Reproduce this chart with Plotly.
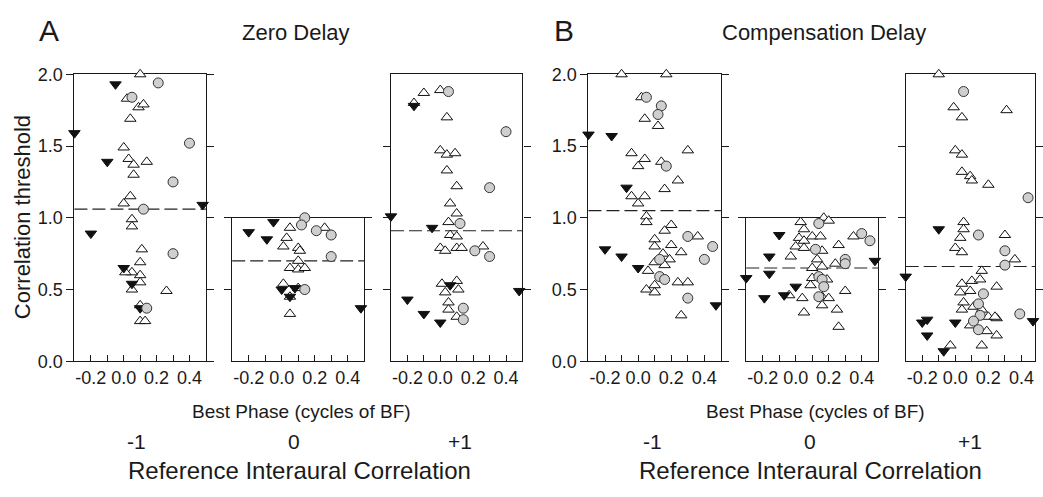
import plotly.graph_objects as go

W, H = 1043, 497

# ---------------- data (best phase, correlation threshold) ----------------
# Panel A1: Zero Delay, reference -1
a1_open_x = [0.10, 0.02, 0.09, 0.12, 0.04, 0.00, 0.03, 0.06, 0.14, 0.06, 0.04, 0.00, 0.05, 0.05,
             0.11, 0.10, 0.10, 0.10, 0.05, 0.01, 0.05, 0.26, 0.10, 0.10, 0.13]
a1_open_y = [2.00, 1.83, 1.77, 1.79, 1.69, 1.49, 1.41, 1.37, 1.39, 1.30, 1.15, 1.10, 0.99, 0.94,
             0.78, 0.69, 0.60, 0.55, 0.62, 0.62, 0.50, 0.49, 0.39, 0.28, 0.28]
a1_fill_x = [-0.05, -0.30, -0.10, 0.48, -0.20, 0.00, 0.05, 0.10]
a1_fill_y = [1.93, 1.59, 1.39, 1.09, 0.89, 0.65, 0.54, 0.37]
a1_circ_x = [0.21, 0.05, 0.40, 0.30, 0.12, 0.30, 0.14]
a1_circ_y = [1.94, 1.84, 1.52, 1.25, 1.06, 0.75, 0.37]

# Panel A2: Zero Delay, reference 0
a2_open_x = [0.05, 0.03, 0.01, 0.10, 0.11, 0.10, 0.05, 0.10, 0.14, 0.26, 0.01, 0.10, 0.05, 0.05]
a2_open_y = [0.93, 0.86, 0.80, 0.79, 0.77, 0.70, 0.65, 0.64, 0.65, 0.93, 0.54, 0.51, 0.45, 0.33]
a2_fill_x = [-0.20, -0.05, -0.09, 0.00, 0.05, 0.08, 0.48]
a2_fill_y = [0.90, 0.97, 0.85, 0.50, 0.45, 0.51, 0.37]
a2_circ_x = [0.14, 0.12, 0.21, 0.30, 0.30, 0.14]
a2_circ_y = [1.00, 0.95, 0.91, 0.88, 0.73, 0.50]

# Panel A3: Zero Delay, reference +1
a3_open_x = [-0.10, 0.00, -0.16, 0.04, 0.00, 0.04, 0.09, 0.04, 0.10, 0.06, 0.10, 0.05, 0.06,
             0.10, 0.00, 0.03, 0.10, 0.13, 0.26, 0.01, 0.10, 0.11, 0.03, 0.05, 0.05, 0.10]
a3_open_y = [1.87, 1.89, 1.80, 1.70, 1.47, 1.44, 1.45, 1.33, 1.22, 1.10, 1.03, 0.97, 0.88,
             0.87, 0.79, 0.77, 0.79, 0.79, 0.80, 0.54, 0.56, 0.50, 0.48, 0.41, 0.36, 0.31]
a3_fill_x = [-0.16, -0.30, -0.05, 0.06, -0.20, -0.10, 0.00, 0.48]
a3_fill_y = [1.78, 1.01, 0.93, 0.53, 0.43, 0.33, 0.27, 0.49]
a3_circ_x = [0.05, 0.40, 0.30, 0.12, 0.21, 0.30, 0.14, 0.14]
a3_circ_y = [1.88, 1.60, 1.21, 0.96, 0.77, 0.73, 0.37, 0.29]

# Panel B1: Compensation Delay, reference -1
b1_open_x = [-0.10, 0.17, 0.02, 0.04, 0.12, -0.04, 0.04, 0.00, 0.14, 0.30, 0.24, 0.16, -0.04,
             0.04, 0.00, 0.05, 0.05, 0.20, 0.16, 0.10, 0.10, 0.20, 0.26, 0.36, 0.15, 0.19,
             0.10, 0.16, 0.06, 0.05, 0.10, 0.10, 0.24, 0.30, 0.26]
b1_open_y = [2.00, 2.00, 1.84, 1.69, 1.64, 1.45, 1.41, 1.36, 1.39, 1.47, 1.26, 1.20, 1.15,
             1.15, 1.10, 1.01, 0.97, 0.95, 0.91, 0.85, 0.80, 0.81, 0.76, 0.87, 0.75, 0.71,
             0.69, 0.67, 0.63, 0.50, 0.53, 0.48, 0.55, 0.55, 0.32]
b1_fill_x = [-0.30, -0.16, -0.07, -0.20, -0.10, 0.00, 0.47]
b1_fill_y = [1.58, 1.57, 1.21, 0.78, 0.73, 0.65, 0.39]
b1_circ_x = [0.05, 0.14, 0.12, 0.17, 0.30, 0.45, 0.40, 0.13, 0.13, 0.16, 0.30]
b1_circ_y = [1.84, 1.78, 1.72, 1.36, 0.87, 0.80, 0.71, 0.71, 0.59, 0.57, 0.44]

# Panel B2: Compensation Delay, reference 0
b2_open_x = [0.17, 0.20, 0.03, 0.05, 0.02, 0.10, 0.15, 0.05, 0.00, 0.05, -0.03, 0.16, 0.26,
             0.13, 0.10, 0.16, 0.24, 0.35, 0.19, 0.10, 0.09, -0.04, 0.04, 0.16, 0.20, 0.30,
             0.16, 0.25, 0.05, 0.26]
b2_open_y = [1.00, 0.98, 0.97, 0.92, 0.86, 0.87, 0.87, 0.84, 0.80, 0.79, 0.73, 0.77, 0.81,
             0.71, 0.65, 0.66, 0.68, 0.87, 0.57, 0.58, 0.53, 0.46, 0.44, 0.45, 0.44, 0.49,
             0.39, 0.36, 0.34, 0.24]
b2_fill_x = [-0.10, -0.16, -0.16, -0.30, -0.19, -0.07, 0.00, 0.48]
b2_fill_y = [0.88, 0.73, 0.61, 0.58, 0.44, 0.46, 0.52, 0.70]
b2_circ_x = [0.14, 0.12, 0.30, 0.30, 0.40, 0.45, 0.14, 0.16, 0.17, 0.14]
b2_circ_y = [0.96, 0.78, 0.71, 0.68, 0.89, 0.84, 0.59, 0.57, 0.52, 0.45]

# Panel B3: Compensation Delay, reference +1
b3_open_x = [-0.10, -0.01, 0.04, 0.31, 0.00, 0.04, 0.04, 0.09, 0.10, 0.20, 0.05, 0.05, 0.03,
             0.00, 0.04, 0.30, 0.36, 0.16, 0.04, 0.10, 0.15, 0.03, 0.09, 0.25, 0.05, 0.04,
             0.11, 0.16, 0.20, 0.25, 0.24, 0.09, 0.19, 0.25, 0.16, -0.03]
b3_open_y = [2.00, 1.77, 1.70, 1.75, 1.47, 1.44, 1.32, 1.29, 1.26, 1.23, 0.97, 0.92, 0.86,
             0.79, 0.76, 0.88, 0.71, 0.63, 0.54, 0.56, 0.57, 0.48, 0.49, 0.52, 0.41, 0.36,
             0.38, 0.36, 0.31, 0.30, 0.31, 0.25, 0.21, 0.18, 0.11, 0.11]
b3_fill_x = [-0.10, -0.20, -0.17, -0.17, 0.00, -0.07, 0.47, -0.30]
b3_fill_y = [0.92, 0.27, 0.29, 0.18, 0.27, 0.07, 0.28, 0.59]
b3_circ_x = [0.05, 0.44, 0.14, 0.30, 0.30, 0.17, 0.14, 0.15, 0.11, 0.14, 0.39]
b3_circ_y = [1.88, 1.14, 0.88, 0.77, 0.67, 0.47, 0.40, 0.32, 0.28, 0.22, 0.33]

# mean thresholds (dashed lines)
panel_means = [1.06, 0.70, 0.91, 1.05, 0.65, 0.66]

x_tick_vals = [-0.2, -0.1, 0.0, 0.1, 0.2, 0.3, 0.4]
x_tick_text = ["-0.2", "", "0.0", "", "0.2", "", "0.4"]
y_tick_vals = [0.0, 0.5, 1.0, 1.5, 2.0]
y_tick_text = ["0.0", "0.5", "1.0", "1.5", "2.0"]

panels = [
    (a1_open_x, a1_open_y, a1_fill_x, a1_fill_y, a1_circ_x, a1_circ_y),
    (a2_open_x, a2_open_y, a2_fill_x, a2_fill_y, a2_circ_x, a2_circ_y),
    (a3_open_x, a3_open_y, a3_fill_x, a3_fill_y, a3_circ_x, a3_circ_y),
    (b1_open_x, b1_open_y, b1_fill_x, b1_fill_y, b1_circ_x, b1_circ_y),
    (b2_open_x, b2_open_y, b2_fill_x, b2_fill_y, b2_circ_x, b2_circ_y),
    (b3_open_x, b3_open_y, b3_fill_x, b3_fill_y, b3_circ_x, b3_circ_y),
]

# ---------------- layout geometry (pixels) ----------------
# (left, right, top, ymax, xmax)
geom = [
    (75, 207.5, 67, 2.0, 0.5),
    (234, 367, 216.5, 1.0, 0.5),
    (394, 526.5, 67, 2.0, 0.5),
    (593, 726.5, 67, 2.0, 0.5),
    (752, 885, 216.5, 1.0, 0.5),
    (912.7, 1043, 67, 2.0, 0.482),
]
BOTTOM = 366

FONT = "Liberation Sans, Arial, sans-serif"
INK = "#1a1a1a"

fig = go.Figure()
layout = dict(
    width=W, height=H, margin=dict(l=0, r=0, t=0, b=0),
    paper_bgcolor="white", plot_bgcolor="white", showlegend=False,
    font=dict(family=FONT, color=INK),
)
shapes = []

for i, (p, g) in enumerate(zip(panels, geom)):
    n = "" if i == 0 else str(i + 1)
    ox, oy, fx, fy, cx, cy = p
    left, right, top, ymax, xmax = g
    common = dict(xaxis="x" + n, yaxis="y" + n, mode="markers", cliponaxis=False, hoverinfo="skip")
    fig.add_trace(go.Scatter(x=ox, y=oy, marker=dict(symbol="triangle-up", size=10, color="white",
                                                     line=dict(color="#111", width=1)), **common))
    fig.add_trace(go.Scatter(x=fx, y=fy, marker=dict(symbol="triangle-down", size=10, color="#111",
                                                     line=dict(color="#111", width=1)), **common))
    fig.add_trace(go.Scatter(x=cx, y=cy, marker=dict(symbol="circle", size=10, color="#cfcfcf",
                                                     line=dict(color="#333", width=1)), **common))
    labelled = i in (0, 3)
    xa = dict(domain=[left / W, right / W], range=[-0.3, xmax], anchor="y" + n,
              showline=True, linecolor=INK, linewidth=1.3, mirror=True,
              ticks="inside", ticklen=6, tickwidth=1.2, tickcolor=INK,
              tickvals=x_tick_vals, ticktext=x_tick_text,
              tickfont=dict(size=18, family=FONT, color=INK),
              showgrid=False, zeroline=False, layer="below traces", fixedrange=True)
    if ymax == 2.0:
        yv = y_tick_vals if labelled else y_tick_vals[1:4]
        yt = y_tick_text if labelled else None
    else:
        yv = [0.5, 1.0]
        yt = None
    ya = dict(domain=[1 - BOTTOM / H, 1 - top / H], range=[0, ymax], anchor="x" + n,
              showline=True, linecolor=INK, linewidth=1.3, mirror="ticks",
              ticks="outside", ticklen=7, tickwidth=1.2, tickcolor=INK,
              tickvals=yv, showticklabels=labelled,
              tickfont=dict(size=18, family=FONT, color=INK),
              showgrid=False, zeroline=False, layer="below traces", fixedrange=True)
    if yt:
        ya["ticktext"] = yt
    layout["xaxis" + n] = xa
    layout["yaxis" + n] = ya
    shapes.append(dict(type="line", xref="x" + n + " domain", yref="y" + n,
                       x0=0, x1=1, y0=panel_means[i], y1=panel_means[i],
                       line=dict(color="#222", width=1.1, dash="13px,5px"), layer="below"))


def ann(text, px, py, size, xanchor="center", angle=0):
    return dict(text=text, x=px / W, y=1 - py / H, xref="paper", yref="paper",
                xanchor=xanchor, yanchor="middle", showarrow=False, textangle=angle,
                font=dict(size=size, family=FONT, color=INK))


annotations = [
    ann("A", 37, 21, 30, "left"),
    ann("B", 556, 21, 30, "left"),
    ann("Zero Delay", 298, 23, 22),
    ann("Compensation Delay", 830, 23, 22),
    ann("Correlation threshold", 22, 216, 22, angle=-90),
]
for off, bp, c1, c0, c2, rc in [(0, 303.5, 138, 296, 464, 302), (1, 822, 658, 816, 978, 817)]:
    annotations += [
        ann("Best Phase (cycles of BF)", bp, 418, 19),
        ann("-1", c1, 450, 21),
        ann("0", c0, 450, 21),
        ann("+1", c2, 450, 21),
        ann("Reference Interaural Correlation", rc, 480, 24),
    ]

layout["shapes"] = shapes
layout["annotations"] = annotations
fig.update_layout(**layout)
fig.write_html("out.html", config={"displayModeBar": False},
               post_script="document.body.style.margin='0';document.body.style.overflow='hidden';")
